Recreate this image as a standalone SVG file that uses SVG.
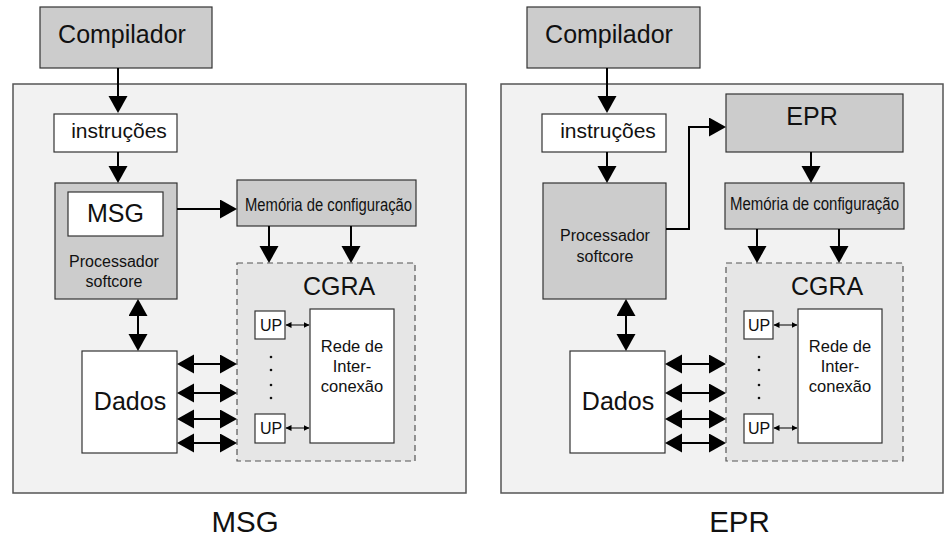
<svg xmlns="http://www.w3.org/2000/svg" width="944" height="537" viewBox="0 0 944 537">
<style>
text{font-family:"Liberation Sans",Arial,sans-serif;fill:#111;text-anchor:middle}
.outer{fill:#f2f2f2;stroke:#555;stroke-width:1.5}
.gray{fill:#cccccc;stroke:#333;stroke-width:1.2}
.white{fill:#fff;stroke:#333;stroke-width:1.2}
.cgra{fill:#e6e6e6;stroke:#555;stroke-width:1.2;stroke-dasharray:6,4}
.c{fill:none;stroke:#000;stroke-width:2}
.cs{fill:none;stroke:#000;stroke-width:1}
.dot{fill:#111}
</style>
<defs>
<marker id="ah" markerUnits="userSpaceOnUse" markerWidth="18" markerHeight="20" refX="15" refY="9.5" orient="auto-start-reverse" viewBox="0 0 18 20">
<path d="M0,0 L17,9.5 L0,19 z" fill="#000"/>
</marker>
<marker id="sh" markerUnits="userSpaceOnUse" markerWidth="7" markerHeight="7" refX="5.5" refY="3" orient="auto-start-reverse" viewBox="0 0 7 7">
<path d="M0,0 L6,3 L0,6 z" fill="#000"/>
</marker>
</defs>

<!-- ===== Left panel (MSG) ===== -->
<g id="msg-outer"><rect class="outer" x="13" y="84" width="453" height="409"/></g>
<g id="msg-compilador"><rect class="gray" x="40" y="7" width="172" height="61"/><text x="122" y="43" font-size="25">Compilador</text></g>
<g id="msg-instrucoes"><rect class="white" x="54" y="114" width="123" height="38"/><text x="119" y="138" font-size="21">instruções</text></g>
<g id="msg-processador"><rect class="gray" x="55" y="183" width="122" height="116"/><text x="114" y="267" font-size="16">Processador</text><text x="114" y="287" font-size="16">softcore</text></g>
<g id="msg-msg"><rect class="white" x="68" y="192" width="95" height="44"/><text x="115.5" y="222" font-size="25">MSG</text></g>
<g id="msg-memoria"><rect class="gray" x="237" y="180" width="179" height="46"/><text x="328.5" y="211" font-size="17.5" textLength="167" lengthAdjust="spacingAndGlyphs">Memória de configuração</text></g>
<g id="msg-cgra"><rect class="cgra" x="237" y="263" width="178" height="198"/><text x="339" y="295" font-size="25">CGRA</text>
<circle class="dot" cx="271" cy="357" r="1.3"/><circle class="dot" cx="271" cy="370" r="1.3"/><circle class="dot" cx="271" cy="385" r="1.3"/><circle class="dot" cx="271" cy="398" r="1.3"/></g>
<g id="msg-up1"><rect class="white" x="255" y="311" width="30" height="28"/><text x="271" y="331" font-size="16">UP</text></g>
<g id="msg-up2"><rect class="white" x="255" y="414" width="30" height="29"/><text x="271" y="434" font-size="16">UP</text></g>
<g id="msg-rede"><rect class="white" x="310" y="309" width="84" height="134"/><text x="352" y="352" font-size="16.5">Rede de</text><text x="352" y="372" font-size="16.5">Inter-</text><text x="352" y="392" font-size="16.5">conexão</text></g>
<g id="msg-dados"><rect class="white" x="82" y="351" width="95" height="102"/><text x="130" y="410" font-size="25">Dados</text></g>
<g id="msg-label"><text x="245" y="532" font-size="29.5">MSG</text></g>

<!-- ===== Right panel (EPR) ===== -->
<g id="epr-outer"><rect class="outer" x="501" y="84" width="442" height="409"/></g>
<g id="epr-compilador"><rect class="gray" x="527" y="7" width="173" height="61"/><text x="609" y="43" font-size="25">Compilador</text></g>
<g id="epr-instrucoes"><rect class="white" x="542" y="114" width="124" height="38"/><text x="608" y="138" font-size="21">instruções</text></g>
<g id="epr-processador"><rect class="gray" x="543" y="183" width="123" height="116"/><text x="605" y="241" font-size="16">Processador</text><text x="605" y="262" font-size="16">softcore</text></g>
<g id="epr-epr"><rect class="gray" x="726" y="94" width="177" height="58"/><text x="812" y="125" font-size="25">EPR</text></g>
<g id="epr-memoria"><rect class="gray" x="725" y="183" width="179" height="46"/><text x="814.5" y="210" font-size="17.5" textLength="169" lengthAdjust="spacingAndGlyphs">Memória de configuração</text></g>
<g id="epr-cgra"><rect class="cgra" x="726" y="263" width="177" height="198"/><text x="827" y="295" font-size="25">CGRA</text>
<circle class="dot" cx="759" cy="357" r="1.3"/><circle class="dot" cx="759" cy="370" r="1.3"/><circle class="dot" cx="759" cy="385" r="1.3"/><circle class="dot" cx="759" cy="398" r="1.3"/></g>
<g id="epr-up1"><rect class="white" x="744" y="311" width="29" height="28"/><text x="759" y="331" font-size="16">UP</text></g>
<g id="epr-up2"><rect class="white" x="744" y="414" width="29" height="29"/><text x="759" y="434" font-size="16">UP</text></g>
<g id="epr-rede"><rect class="white" x="798" y="309" width="84" height="134"/><text x="840" y="352" font-size="16.5">Rede de</text><text x="840" y="372" font-size="16.5">Inter-</text><text x="840" y="392" font-size="16.5">conexão</text></g>
<g id="epr-dados"><rect class="white" x="570" y="351" width="95" height="102"/><text x="618" y="410" font-size="25">Dados</text></g>
<g id="epr-label"><text x="739.5" y="532" font-size="29.5">EPR</text></g>

<!-- ===== Connectors ===== -->
<g id="connectors">
<line class="c" x1="118" y1="68" x2="118" y2="111" marker-end="url(#ah)"/>
<line class="c" x1="118" y1="152" x2="118" y2="181" marker-end="url(#ah)"/>
<line class="c" x1="177" y1="209" x2="235" y2="209" marker-end="url(#ah)"/>
<line class="c" x1="269" y1="226" x2="269" y2="261" marker-end="url(#ah)"/>
<line class="c" x1="351" y1="226" x2="351" y2="261" marker-end="url(#ah)"/>
<line class="c" x1="138" y1="301" x2="138" y2="349" marker-start="url(#ah)" marker-end="url(#ah)"/>
<line class="c" x1="179" y1="364" x2="235" y2="364" marker-start="url(#ah)" marker-end="url(#ah)"/>
<line class="c" x1="179" y1="393" x2="235" y2="393" marker-start="url(#ah)" marker-end="url(#ah)"/>
<line class="c" x1="179" y1="419" x2="235" y2="419" marker-start="url(#ah)" marker-end="url(#ah)"/>
<line class="c" x1="179" y1="443" x2="235" y2="443" marker-start="url(#ah)" marker-end="url(#ah)"/>
<line class="cs" x1="286" y1="325" x2="309" y2="325" marker-start="url(#sh)" marker-end="url(#sh)"/>
<line class="cs" x1="286" y1="428" x2="309" y2="428" marker-start="url(#sh)" marker-end="url(#sh)"/>

<line class="c" x1="607" y1="68" x2="607" y2="111" marker-end="url(#ah)"/>
<line class="c" x1="607" y1="152" x2="607" y2="181" marker-end="url(#ah)"/>
<path class="c" d="M666,229 H689 V127 H724" marker-end="url(#ah)"/>
<line class="c" x1="811" y1="152" x2="811" y2="181" marker-end="url(#ah)"/>
<line class="c" x1="757" y1="229" x2="757" y2="261" marker-end="url(#ah)"/>
<line class="c" x1="839" y1="229" x2="839" y2="261" marker-end="url(#ah)"/>
<line class="c" x1="626" y1="301" x2="626" y2="349" marker-start="url(#ah)" marker-end="url(#ah)"/>
<line class="c" x1="667" y1="364" x2="724" y2="364" marker-start="url(#ah)" marker-end="url(#ah)"/>
<line class="c" x1="667" y1="393" x2="724" y2="393" marker-start="url(#ah)" marker-end="url(#ah)"/>
<line class="c" x1="667" y1="419" x2="724" y2="419" marker-start="url(#ah)" marker-end="url(#ah)"/>
<line class="c" x1="667" y1="443" x2="724" y2="443" marker-start="url(#ah)" marker-end="url(#ah)"/>
<line class="cs" x1="774" y1="325" x2="797" y2="325" marker-start="url(#sh)" marker-end="url(#sh)"/>
<line class="cs" x1="774" y1="428" x2="797" y2="428" marker-start="url(#sh)" marker-end="url(#sh)"/>
</g>
</svg>
